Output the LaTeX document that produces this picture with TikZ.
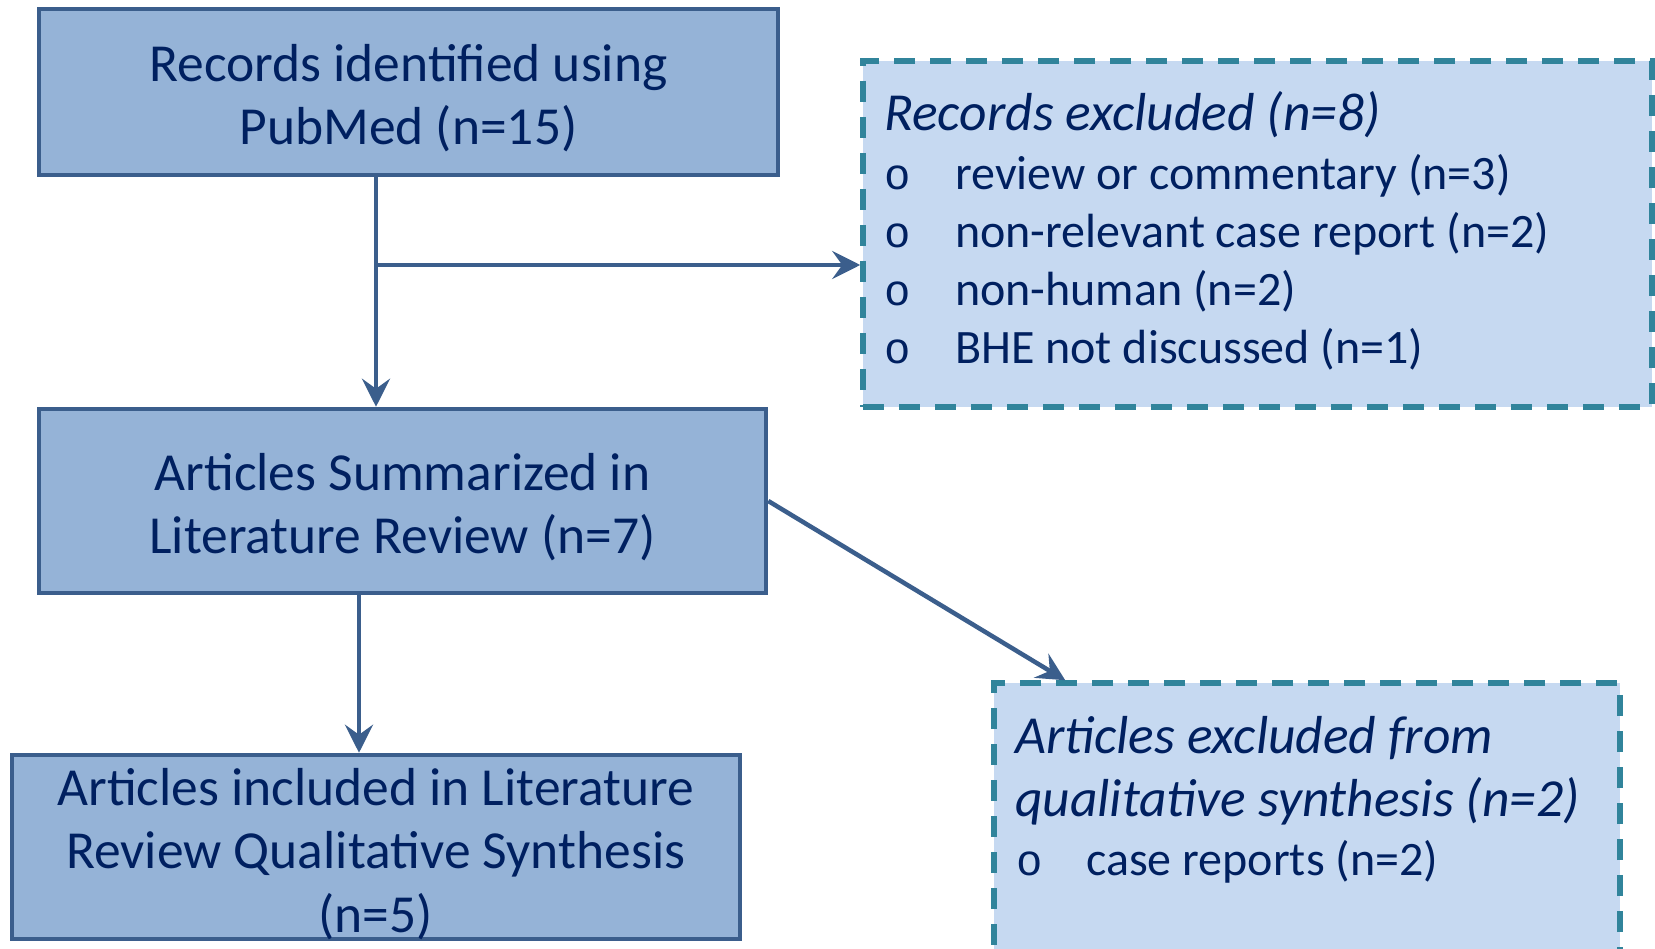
\documentclass[tikz,border=0pt]{standalone}
\usepackage{fontspec}
\setmainfont{Carlito}
\newfontfamily\bulletfont{Liberation Mono}
\usetikzlibrary{arrows.meta,calc}
\definecolor{boxfill}{HTML}{95B3D7}
\definecolor{boxdraw}{HTML}{3B5E8C}
\definecolor{txt}{HTML}{002060}
\definecolor{exfill}{HTML}{C6D9F1}
\definecolor{exdraw}{HTML}{31849B}
\begin{document}
\begin{tikzpicture}[x=1pt,y=-1pt,
  mainbox/.style={draw=boxdraw, line width=4.5pt, fill=boxfill, inner sep=0pt},
  maintext/.style={text=txt, align=center, inner sep=0pt, font=\fontsize{53.5}{63.5}\selectfont},
  exbox/.style={draw=exdraw, line width=5.5pt, dash pattern=on 21pt off 15pt, fill=exfill, inner sep=0pt},
  titletext/.style={text=txt, font=\fontsize{53.5}{63}\selectfont\itshape, anchor=base west, inner sep=0pt},
  itemtext/.style={text=txt, font=\fontsize{48}{58}\selectfont, anchor=base west, inner sep=0pt},
  bullettext/.style={text=txt, font=\fontsize{44}{58}\bulletfont, anchor=base west, inner sep=0pt},
  conn/.style={draw=boxdraw, line width=4.5pt, -{Stealth[length=28pt,width=28pt,inset=10pt]}}]
\useasboundingbox (0,0) rectangle (1655,949);
\fill[white] (0,0) rectangle (1655,949);
% main boxes
\node[mainbox, minimum width=739pt, minimum height=166pt] (b1) at (408.5,92) {};
\node[mainbox, minimum width=727pt, minimum height=184pt] (b2) at (402.5,501) {};
\node[mainbox, minimum width=728pt, minimum height=184pt] (b3) at (375.75,847) {};
\node[maintext] (b1t) at ($(b1.center)+(0,6)$) {Records identified using\\PubMed (n=15)};
\node[maintext] (b2t) at ($(b2.center)+(0,6)$) {Articles Summarized in\\Literature Review (n=7)};
\node[maintext] (b3t) at ($(b3.center)+(0,7)$) {Articles included in Literature\\Review Qualitative Synthesis\\(n=5)};
% exclusion boxes
\node[exbox, minimum width=789pt, minimum height=346pt] (e1) at (1257.5,234) {};
\node[exbox, minimum width=626pt, minimum height=307pt] (e2) at (1307,836.5) {};
% text of box e1
\node[titletext] (e1t) at (884,131) {Records excluded (n=8)};
\node[bullettext] (e1b1) at (884,190) {o};
\node[itemtext] (e1i1) at (955,190) {review or commentary (n=3)};
\node[bullettext] (e1b2) at (884,248) {o};
\node[itemtext] (e1i2) at (955,248) {non-relevant case report (n=2)};
\node[bullettext] (e1b3) at (884,306) {o};
\node[itemtext] (e1i3) at (955,306) {non-human (n=2)};
\node[bullettext] (e1b4) at (884,364) {o};
\node[itemtext] (e1i4) at (955,364) {BHE not discussed (n=1)};
% text of box e2
\node[titletext] (e2t1) at (1015,753) {Articles excluded from};
\node[titletext] (e2t2) at (1015,816) {qualitative synthesis (n=2)};
\node[bullettext] (e2b1) at (1016,875) {o};
\node[itemtext] (e2i1) at (1086,875) {case reports (n=2)};
% connectors
\coordinate (j) at (376,265);
\coordinate (k) at (359,0);
\draw[conn] (b1.south -| j) -- (b2.north -| j);
\draw[conn] (j) -- (j -| e1.west);
\draw[conn] (b2.south -| k) -- (b3.north -| k);
\draw[conn] (b2.east) -- ($(e2.north west)+(74,0)$);
\end{tikzpicture}
\end{document}
